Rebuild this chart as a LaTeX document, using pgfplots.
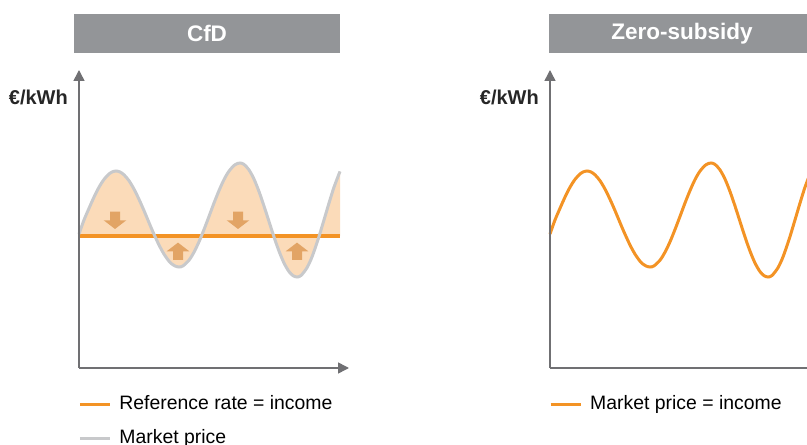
\documentclass[border=0pt]{standalone}
\usepackage{fontspec}
\setmainfont{Liberation Sans}
\usepackage{pgfplots}
\pgfplotsset{compat=1.18}
\usepgfplotslibrary{fillbetween}
\usetikzlibrary{arrows.meta}

\definecolor{refor}{HTML}{F39325}
\definecolor{areac}{HTML}{FBDBB9}
\definecolor{arrc}{HTML}{E2A465}
\definecolor{pricegray}{HTML}{C8C9CB}
\definecolor{barc}{HTML}{939598}
\definecolor{axc}{HTML}{707073}

% market price curve (x, y in px from the axis origin)
\pgfplotstableread{
x y
0 134
5 148
10 159.7
15 170.9
20 180.8
25 188.6
30 194.1
33 196.0
37 197
41 196.0
45 193.2
50 187.3
55 178.9
60 168.7
65 157.4
70 145.4
74 136
80 123.0
85 113.9
90 106.8
93 103.9
96 102.0
100 101
104 102.1
110 107.8
115 115.8
120 126.2
125 138.5
130 151.6
135 165.0
140 177.4
145 188.4
150 196.9
156 203.3
161 205
165 203.6
170 198.1
175 188.9
180 176.5
185 162.0
190 146.5
195 131.0
200 116.9
205 105.0
210 96.4
214 92.4
218 91
222 92.5
228 100.3
233 111.1
239 128.3
245 148.1
250 164.9
255 180.8
261 196.6
}\pricedata

\pgfdeclareplotmark{darr}{%
  \pgfpathmoveto{\pgfpoint{-5pt}{8.7pt}}\pgfpathlineto{\pgfpoint{5pt}{8.7pt}}%
  \pgfpathlineto{\pgfpoint{5pt}{0pt}}\pgfpathlineto{\pgfpoint{11.3pt}{0pt}}%
  \pgfpathlineto{\pgfpoint{0pt}{-8.7pt}}\pgfpathlineto{\pgfpoint{-11.3pt}{0pt}}%
  \pgfpathlineto{\pgfpoint{-5pt}{0pt}}\pgfpathclose\pgfusepathqfill}
\pgfdeclareplotmark{uarr}{%
  \pgfpathmoveto{\pgfpoint{-5pt}{-8.7pt}}\pgfpathlineto{\pgfpoint{5pt}{-8.7pt}}%
  \pgfpathlineto{\pgfpoint{5pt}{0pt}}\pgfpathlineto{\pgfpoint{11.3pt}{0pt}}%
  \pgfpathlineto{\pgfpoint{0pt}{8.7pt}}\pgfpathlineto{\pgfpoint{-11.3pt}{0pt}}%
  \pgfpathlineto{\pgfpoint{-5pt}{0pt}}\pgfpathclose\pgfusepathqfill}

\pgfplotsset{
  panel/.style={
    anchor=south west, scale only axis, width=270pt, height=298pt,
    xmin=0, xmax=270, ymin=0, ymax=298, hide axis, clip=false,
    legend style={draw=none, fill=none, anchor=north west,
      at={(axis description cs:-0.0037,-0.0906)}, inner sep=0pt, row sep=16pt,
      font=\fontsize{19.4}{22}\selectfont,
      nodes={inner sep=0pt, text height=14pt, text depth=4pt},
      /tikz/every odd column/.append style={column sep=8pt}},
    legend cell align=left,
    legend image code/.code={\draw[##1] (0pt,0pt) -- (30pt,0pt);},
  },
}

\begin{document}
\begin{tikzpicture}

% title bars
\fill[barc] (74pt,392pt) rectangle (340pt,431pt);
\node[text=white, font=\bfseries\fontsize{22.5}{24}\selectfont] at (207pt,411.5pt) {CfD};
\fill[barc] (549pt,392pt) rectangle (815pt,431pt);
\node[text=white, font=\bfseries\fontsize{22.5}{24}\selectfont] at (682pt,411.5pt) {Zero-subsidy};

% unit labels
\node[anchor=base east, inner sep=0pt, font=\bfseries\fontsize{20}{22}\selectfont, text=black!85] at (68pt,340pt) {€/kWh};
\node[anchor=base east, inner sep=0pt, font=\bfseries\fontsize{20}{22}\selectfont, text=black!85] at (539pt,340pt) {€/kWh};

% CfD panel
\begin{axis}[panel, at={(79pt,77pt)}]
\addplot[refor, line width=3.2pt, name path=ref] coordinates {(0,132) (261,132)};
\addlegendentry{Reference rate = income}
\addplot[pricegray, line width=3pt, smooth, name path=mp] table[x=x, y=y] {\pricedata};
\addlegendentry{Market price}
\addplot[areac, forget plot] fill between[of=mp and ref];
\addplot[only marks, mark=darr, arrc, forget plot] coordinates {(36,147.7) (159,147.7)};
\addplot[only marks, mark=uarr, arrc, forget plot] coordinates {(99,116.7) (218,116.7)};
\draw[axc, line width=1.5pt, -{Triangle[width=11pt,length=11pt]}] (axis cs:0,0) -- (axis cs:0,298);
\draw[axc, line width=1.5pt, -{Triangle[width=11pt,length=11pt]}] (axis cs:0,0) -- (axis cs:270,0);
\end{axis}

% zero-subsidy panel
\begin{axis}[panel, at={(550pt,77pt)}]
\addplot[refor, line width=3pt, smooth] table[x=x, y=y] {\pricedata};
\addlegendentry{Market price = income}
\draw[axc, line width=1.5pt, -{Triangle[width=11pt,length=11pt]}] (axis cs:0,0) -- (axis cs:0,298);
\draw[axc, line width=1.5pt, -{Triangle[width=11pt,length=11pt]}] (axis cs:0,0) -- (axis cs:270,0);
\end{axis}

\pgfresetboundingbox
\useasboundingbox (0pt,0pt) rectangle (807pt,445pt);
\end{tikzpicture}
\end{document}
